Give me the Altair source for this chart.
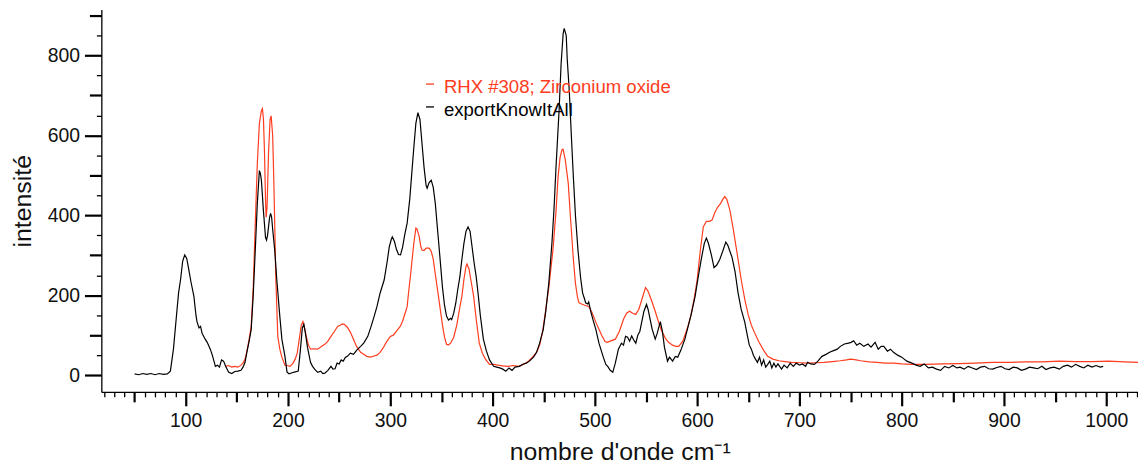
import altair as alt
import pandas as pd

# ---- data ----
black_wn = [50, 54, 58, 62, 66, 70, 74, 78, 82, 85, 88, 91, 93, 95, 97, 99, 101, 103, 105, 108, 110, 111, 113, 114.5, 116, 119, 121, 124, 126, 129, 131, 133, 135, 137, 139, 142, 145, 148, 151, 154, 156, 158, 160, 162, 164, 166, 168, 170, 172, 173, 174, 176, 178, 179, 180, 182, 183, 184, 185, 187, 189, 192, 194, 197, 199, 201, 204, 207, 210, 212, 214, 215.5, 217, 219, 222, 224, 226, 229, 232, 234, 236, 239, 242, 244, 246, 248, 250, 252, 254, 256, 258, 261, 264, 267, 271, 274, 278, 281, 284, 287, 290, 294, 297, 299, 301, 302, 304, 306, 308, 310, 312, 314, 316.5, 319, 321, 323, 325, 327, 329, 331, 333, 335, 336, 338, 340, 342, 344, 346, 348.5, 351, 353, 355, 357, 359, 360, 362, 364, 366, 368, 370, 372, 374, 376, 378, 380, 382, 384, 386, 388, 391, 394, 397, 401, 404, 407, 410, 413, 416, 419, 422, 426, 430, 433, 436, 440, 443, 446, 449.5, 452, 455, 458, 460, 462, 465, 467, 469, 470, 472, 473, 475, 477, 479, 481, 483.5, 486, 488, 490, 491, 493, 494, 496, 498, 501, 504, 508, 510.7, 512.6, 515, 517.5, 520, 523, 526, 528, 530, 532, 534, 536, 538, 540, 542, 544, 546, 548, 550.5, 552, 554, 556, 559, 561, 564, 566, 568, 571, 573, 576, 578.6, 581, 584, 588, 591, 594, 598, 601, 604, 607, 609, 611, 614, 616.5, 619, 622, 625, 628, 630, 632, 634, 637, 640, 643, 646.6, 649, 651, 653, 655, 657, 659, 661, 663, 665, 667, 669, 671, 673, 675, 677, 679, 682.5, 685, 688, 691, 694, 697, 700, 703, 706, 708, 711, 714.6, 718, 722, 726, 730, 734, 737, 740, 744, 748, 750.5, 753, 756, 759, 763, 767, 770, 774, 777, 780, 782.5, 786, 789, 792, 796, 800, 805, 810, 814, 818, 822, 826, 830, 834, 838, 842, 846, 850, 854, 857, 861, 865, 869, 873, 877, 881, 885, 889, 893, 897, 901, 905, 909, 913, 917, 921, 925, 929, 933, 937, 941, 945, 949, 954, 958, 962, 966, 970, 974, 978, 982, 986, 990, 994, 997]
black_int = [3, 1, 4, 2, 4, 1, 4, 2, 3, 10, 65, 150, 206, 240, 285, 301, 292, 264, 235, 197, 150, 134, 118, 122, 105, 90, 82, 65, 50, 22, 25, 20, 38, 35, 22, 7, 4, 9, 10, 12, 20, 32, 60, 85, 114, 200, 313, 430, 512, 505, 487, 410, 345, 338, 350, 395, 405, 395, 365, 313, 240, 147, 90, 47, 8, 3, 6, 8, 10, 60, 118, 127, 105, 70, 32, 22, 15, 7, 10, 4, 5, 12, 22, 15, 16, 30, 28, 38, 35, 44, 47, 55, 52, 62, 72, 80, 97, 120, 145, 172, 205, 238, 285, 321, 340, 346, 335, 315, 302, 301, 320, 350, 381, 440, 505, 570, 630, 657, 640, 580, 520, 475, 468, 482, 488, 470, 430, 370, 296, 220, 175, 147, 138, 142, 139, 155, 180, 215, 246, 290, 330, 360, 371, 360, 320, 280, 246, 200, 150, 90, 60, 38, 22, 20, 18, 15, 10, 18, 12, 20, 22, 28, 30, 35, 45, 57, 80, 114, 160, 231, 330, 413, 520, 662, 780, 855, 868, 850, 790, 711, 600, 495, 400, 313, 245, 206, 190, 181, 178, 183, 159, 140, 114, 80, 47, 27, 22, 12, 7, 30, 65, 80, 75, 97, 95, 85, 98, 88, 80, 100, 110, 135, 160, 177, 165, 140, 115, 90, 105, 134, 110, 70, 35, 45, 35, 47, 45, 62, 90, 120, 150, 197, 245, 290, 330, 343, 330, 300, 269, 275, 289, 310, 333, 325, 310, 296, 260, 206, 165, 132, 100, 75, 65, 50, 40, 32, 45, 25, 38, 20, 27, 35, 18, 30, 20, 28, 15, 25, 18, 30, 22, 30, 25, 28, 22, 32, 28, 27, 35, 47, 52, 58, 62, 65, 72, 78, 80, 82, 86, 75, 80, 72, 78, 70, 82, 65, 72, 72, 60, 65, 57, 50, 45, 35, 30, 25, 22, 28, 18, 20, 15, 12, 22, 18, 24, 18, 20, 15, 22, 18, 14, 20, 22, 16, 15, 19, 22, 16, 14, 20, 18, 12, 15, 20, 18, 16, 22, 14, 18, 20, 15, 22, 25, 20, 27, 22, 18, 25, 20, 24, 20, 22]

red_wn = [139, 142, 145, 148, 151, 154, 156, 158, 160, 162, 164, 166, 168, 170, 172, 174, 175, 176, 177, 178, 178.6, 179.5, 181, 182.5, 183.5, 185, 186, 187, 188, 190, 192, 194, 197, 199, 202, 205, 207, 209, 211, 213, 214.6, 216, 218, 220, 222, 225, 229, 233, 236, 239, 242, 245, 248.5, 251, 253, 255, 258, 261, 264, 267, 271, 274, 277, 280.6, 284, 287, 290, 293, 296, 300, 303, 306, 309.7, 312, 314.5, 316.5, 318, 320, 321, 323, 325, 326, 328, 330, 331, 333, 335, 338, 340, 342, 343, 345, 348, 351, 353, 355, 357, 359, 362, 365, 368, 370, 372, 374, 375, 377, 379, 381.5, 384, 387, 390, 393, 397, 401, 405, 410, 415, 420, 426, 431, 435, 439, 443, 446, 449, 452, 455, 459, 462, 464, 466, 468, 469, 471, 474, 476, 479, 481, 483, 484.5, 487, 490, 494, 497, 501, 504, 507, 510, 512, 515, 520, 524, 528, 531, 534, 537, 540, 543, 546, 549.5, 552, 555, 559, 562, 565, 569, 572, 576, 579, 582, 586, 591, 594, 597, 600, 603, 606, 609, 612, 614.6, 617, 620, 623, 625, 627, 629, 632, 635, 639, 643, 646.6, 650, 653, 656, 660, 665, 669, 674, 680, 686, 692, 700, 708, 716, 724, 732, 740, 746, 750, 754, 760, 768, 776, 784, 792, 800, 810, 824, 840, 856, 872, 889, 905, 921, 937, 954, 970, 986, 1002, 1018, 1031]
red_int = [22, 24, 20, 22, 20, 25, 30, 40, 62, 90, 122, 220, 380, 530, 630, 662, 667, 640, 560, 440, 395, 420, 560, 640, 649, 600, 500, 380, 250, 97, 65, 45, 25, 24, 22, 30, 40, 55, 90, 125, 134, 120, 95, 75, 65, 66, 65, 72, 77, 85, 97, 108, 122, 125, 128, 127, 120, 107, 90, 72, 57, 52, 47, 45, 48, 50, 57, 68, 82, 97, 100, 110, 122, 135, 155, 172, 210, 255, 281, 330, 368, 366, 350, 320, 313, 312, 318, 318, 310, 290, 271, 235, 181, 125, 95, 77, 76, 80, 95, 125, 170, 197, 240, 272, 278, 265, 235, 197, 140, 80, 55, 40, 27, 27, 25, 23, 22, 24, 22, 28, 35, 45, 57, 75, 110, 164, 220, 313, 410, 495, 545, 565, 565, 540, 480, 400, 289, 230, 195, 181, 178, 175, 172, 158, 132, 115, 98, 84, 82, 85, 90, 110, 140, 155, 160, 155, 152, 165, 190, 219, 210, 190, 160, 135, 112, 92, 82, 75, 72, 72, 85, 122, 150, 190, 238, 310, 371, 385, 385, 388, 405, 420, 430, 440, 447, 440, 413, 370, 306, 240, 189, 150, 125, 107, 85, 62, 47, 40, 36, 34, 32, 31, 30, 31, 32, 34, 36, 38, 40, 39, 36, 33, 32, 30, 30, 28, 27, 27, 28, 29, 30, 32, 32, 33, 33, 35, 34, 34, 35, 33, 32]

series_names = ["RHX #308; Zirconium oxide", "exportKnowItAll"]
series_colors = ["#ff3c1e", "#000000"]

# tick positions
x_major = [100, 200, 300, 400, 500, 600, 700, 800, 900, 1000]
x_mid = [50, 150, 250, 350, 450, 550, 650, 750, 850, 950]
x_minor = [20, 30, 40, 60, 70, 80, 90, 110, 120, 130, 140, 160, 170, 180, 190,
           210, 220, 230, 240, 260, 270, 280, 290, 310, 320, 330, 340, 360, 370, 380, 390,
           410, 420, 430, 440, 460, 470, 480, 490, 510, 520, 530, 540, 560, 570, 580, 590,
           610, 620, 630, 640, 660, 670, 680, 690, 710, 720, 730, 740, 760, 770, 780, 790,
           810, 820, 830, 840, 860, 870, 880, 890, 910, 920, 930, 940, 960, 970, 980, 990,
           1010, 1020, 1030]
y_major = [0, 200, 400, 600, 800]
y_mid = [100, 300, 500, 700, 900]
y_minor = [50, 150, 250, 350, 450, 550, 650, 750, 850]

X_DOMAIN = [17.5, 1031]
Y_DOMAIN = [-42, 915]
FONT = "Liberation Sans"

df = pd.concat([
    pd.DataFrame({"wn": red_wn, "I": red_int, "series": series_names[0]}),
    pd.DataFrame({"wn": black_wn, "I": black_int, "series": series_names[1]}),
], ignore_index=True)


def layer(xaxis, yaxis, opacity):
    return alt.Chart(df).mark_line(strokeWidth=1.2, opacity=opacity, clip=True).encode(
        x=alt.X("wn:Q", scale=alt.Scale(domain=X_DOMAIN, nice=False, zero=False), axis=xaxis),
        y=alt.Y("I:Q", scale=alt.Scale(domain=Y_DOMAIN, nice=False, zero=False), axis=yaxis),
        color=alt.Color("series:N", scale=alt.Scale(domain=series_names, range=series_colors), legend=None),
    )


main = layer(
    alt.Axis(orient="bottom", values=x_major, format="d", tickSize=14, tickWidth=2.2, tickColor="#000",
             domainColor="#000", domainWidth=1.3, labelFont=FONT, labelFontSize=19.5,
             labelColor="#111", labelPadding=6, labelFlush=False, labelOverlap=False, grid=False,
             title="nombre d'onde cm⁻¹", titleFont=FONT, titleFontSize=25, titleFontWeight="normal",
             titleColor="#111", titlePadding=10),
    alt.Axis(orient="left", values=y_major, format="d", tickSize=17, tickWidth=2.2, tickColor="#000",
             domainColor="#000", domainWidth=1.3, labelFont=FONT, labelFontSize=19.5,
             labelColor="#111", labelPadding=5, labelOverlap=False, grid=False,
             title="intensité", titleFont=FONT, titleFontSize=25, titleFontWeight="normal",
             titleColor="#111", titlePadding=12),
    1,
)
mid = layer(
    alt.Axis(orient="bottom", values=x_mid, tickSize=10, tickWidth=2.2, tickColor="#000",
             domain=False, labels=False, grid=False, title=None),
    alt.Axis(orient="left", values=y_mid, tickSize=12, tickWidth=2.2, tickColor="#000",
             domain=False, labels=False, grid=False, title=None),
    0,
)
minor = layer(
    alt.Axis(orient="bottom", values=x_minor, tickSize=5, tickWidth=1.3, tickColor="#000",
             domain=False, labels=False, grid=False, title=None),
    alt.Axis(orient="left", values=y_minor, tickSize=5, tickWidth=1.3, tickColor="#000",
             domain=False, labels=False, grid=False, title=None),
    0,
)

legend_layers = []
legend_y = [84, 107]
for name, col, ly in zip(series_names, series_colors, legend_y):
    ldf = pd.DataFrame({"label": [name]})
    legend_layers.append(
        alt.Chart(ldf).mark_text(align="left", baseline="alphabetic", font=FONT,
                                 fontSize=18.7, color=col).encode(
            text="label:N", x=alt.value(345), y=alt.value(ly))
    )
    legend_layers.append(
        alt.Chart(ldf).mark_rule(color=col, strokeWidth=1.3).encode(
            x=alt.value(327), x2=alt.value(335), y=alt.value(ly - 9))
    )

chart = alt.layer(main, mid, minor, *legend_layers).resolve_axis(
    x="independent", y="independent"
).properties(
    width=1044, height=385,
    padding={"left": 94, "top": 0, "right": 0, "bottom": 72},
    autosize=alt.AutoSizeParams(type="none"),
).configure_view(strokeWidth=0)

chart.save("out.html", embed_options={"renderer": "svg", "actions": False})
